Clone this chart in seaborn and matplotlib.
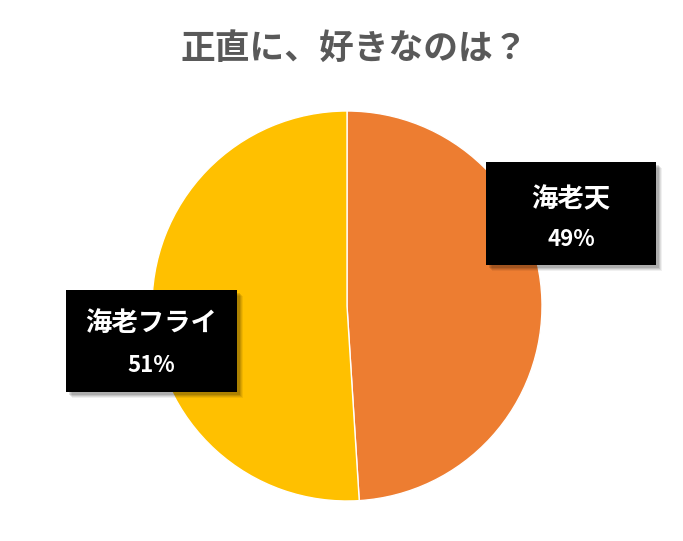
import matplotlib
matplotlib.use("Agg")
import matplotlib.pyplot as plt
import seaborn as sns
from matplotlib.patches import Rectangle

categories = ["海老天", "海老フライ"]
values = [49, 51]
colors = ["#ED7D31", "#FFC000"]
title = "正直に、好きなのは？"

sns.set_theme(style="white")
plt.rcParams['font.family'] = ['Noto Sans CJK JP', 'DejaVu Sans']

W, H = 683, 541
fig = plt.figure(figsize=(W / 100, H / 100), dpi=100)
fig.patch.set_facecolor("white")

cx, cy, r = 347, 306, 195
ax = fig.add_axes([(cx - r) / W, (H - cy - r) / H, 2 * r / W, 2 * r / H])
wedges, _ = ax.pie(values, colors=colors, startangle=90, counterclock=False,
                   wedgeprops=dict(edgecolor="white", linewidth=1.0))
ax.set_xlim(-1, 1)
ax.set_ylim(-1, 1)
ax.set_aspect("equal")
ax.axis("off")

fig.text(354 / W, 1 - 48 / H, title, ha="center", va="center",
         fontsize=25, fontweight="bold", color="#595959")

boxes = [(486, 162, 656, 265), (66, 290, 237, 392)]
label_y = [200, 323]
pct_y = [239, 366]
for (x0, y0, x1, y1), ly, py, lab, v in zip(boxes, label_y, pct_y, categories, values):
    for k, a in [(6, 0.06), (5, 0.08), (4, 0.1), (3, 0.12)]:
        fig.patches.append(Rectangle(((x0 + k) / W, 1 - (y1 + k) / H),
                                     (x1 - x0) / W, (y1 - y0) / H,
                                     transform=fig.transFigure, facecolor="black",
                                     alpha=a, edgecolor="none", zorder=3))
    fig.patches.append(Rectangle((x0 / W, 1 - y1 / H), (x1 - x0) / W, (y1 - y0) / H,
                                 transform=fig.transFigure, facecolor="black",
                                 edgecolor="none", zorder=4))
    mx = (x0 + x1) / 2
    fig.text(mx / W, 1 - ly / H, lab, ha="center", va="center",
             fontsize=19, fontweight="bold", color="white", zorder=5)
    fig.text(mx / W, 1 - py / H, f"{v}%", ha="center", va="center",
             fontsize=16, fontweight="bold", color="white", zorder=5)

fig.savefig("out.png", dpi=100, facecolor="white")
